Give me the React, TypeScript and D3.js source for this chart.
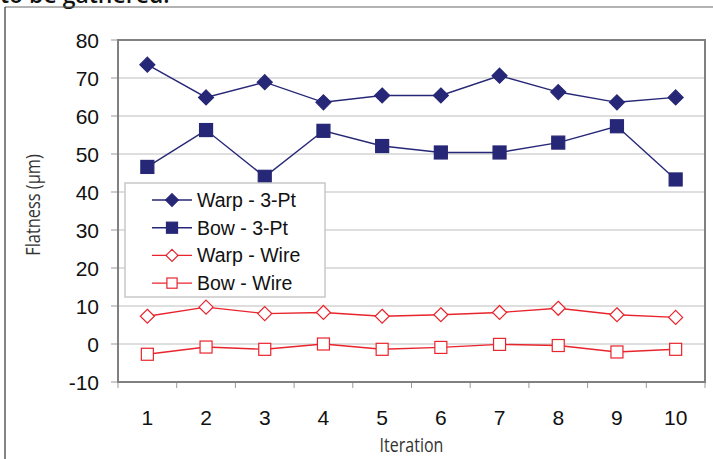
import * as d3 from "d3";

const iterations = [1, 2, 3, 4, 5, 6, 7, 8, 9, 10];
const warp3Pt = [73.5, 64.9, 68.9, 63.6, 65.4, 65.4, 70.6, 66.3, 63.6, 64.9];
const bow3Pt = [46.6, 56.3, 44.0, 56.1, 52.1, 50.4, 50.4, 53.0, 57.3, 43.3];
const warpWire = [7.3, 9.7, 8.0, 8.3, 7.3, 7.7, 8.3, 9.4, 7.7, 7.0];
const bowWire = [-2.7, -0.8, -1.4, 0.0, -1.4, -0.9, -0.1, -0.4, -2.1, -1.4];
const yTicks = [-10, 0, 10, 20, 30, 40, 50, 60, 70, 80];

const NAVY = "#272777";
const RED = "#e8242c";

const series = [
  { name: "Warp - 3-Pt", values: warp3Pt, color: NAVY, shape: "diamond", filled: true },
  { name: "Bow - 3-Pt", values: bow3Pt, color: NAVY, shape: "square", filled: true },
  { name: "Warp - Wire", values: warpWire, color: RED, shape: "diamond", filled: false },
  { name: "Bow - Wire", values: bowWire, color: RED, shape: "square", filled: false },
];

const W = 713;
const H = 459;
const margin = { left: 118, right: 8, top: 40, bottom: 77 };

const Marker = ({ x, y, shape, filled, color, k = 1 }: any) => {
  if (shape === "diamond") {
    const r = (filled ? 7.5 : 7) * k;
    return (
      <path
        d={`M${x},${y - r}L${x + r},${y}L${x},${y + r}L${x - r},${y}Z`}
        fill={filled ? color : "white"}
        stroke={color}
        strokeWidth={1.2}
      />
    );
  }
  const s = (filled ? 13 : 12) * k;
  return (
    <rect
      x={x - s / 2}
      y={y - s / 2}
      width={s}
      height={s}
      fill={filled ? color : "white"}
      stroke={color}
      strokeWidth={1.2}
    />
  );
};

export default function App() {
  const x = d3
    .scaleBand<number>()
    .domain(iterations)
    .range([margin.left, W - margin.right])
    .padding(0);
  const y = d3
    .scaleLinear()
    .domain([-10, 80])
    .range([H - margin.bottom, margin.top]);

  const cx = (d: number) => (x(d) as number) + x.bandwidth() / 2;
  const line = d3
    .line<number>()
    .x((_, i) => cx(iterations[i]))
    .y((v) => y(v));

  const plotL = margin.left;
  const plotR = W - margin.right;
  const plotT = margin.top;
  const plotB = H - margin.bottom;
  const boundaries = iterations.map((d) => x(d) as number).concat([plotR]);

  // legend position
  const lg = { x: 125, y: 183, w: 200, h: 114 };

  return (
    <svg
      width={W}
      height={H}
      style={{ position: "absolute", left: 0, top: 0, background: "white" }}
    >
      {/* page fragment above the figure */}
      <text x={0} y={3} fontFamily="Open Sans, sans-serif" fontWeight={600} fontSize={23} fill="#111">
        to be gathered.
      </text>
      <line x1={5} x2={W} y1={7} y2={7} stroke="#666" strokeWidth={1} />
      <line x1={5} x2={5} y1={7} y2={H} stroke="#333" strokeWidth={1.2} />

      {/* gridlines */}
      {yTicks.map((t) => (
        <line key={t} x1={plotL} x2={plotR} y1={y(t)} y2={y(t)} stroke="#bdbdbd" strokeWidth={1.2} />
      ))}
      {/* y tick marks & labels */}
      {yTicks.map((t) => (
        <g key={"yt" + t}>
          <line x1={plotL - 7} x2={plotL} y1={y(t)} y2={y(t)} stroke="#999" />
          <text
            x={99}
            y={y(t)}
            dy="0.36em"
            textAnchor="end"
            fontFamily="Liberation Sans, Arial, sans-serif"
            fontSize={21}
            fill="#111"
          >
            {t}
          </text>
        </g>
      ))}
      {/* x ticks */}
      {boundaries.map((b, i) => (
        <line key={"xb" + i} x1={b} x2={b} y1={plotB} y2={plotB + 6} stroke="#999" />
      ))}
      {iterations.map((d) => (
        <text
          key={"xl" + d}
          x={cx(d)}
          y={425}
          textAnchor="middle"
          fontFamily="Liberation Sans, Arial, sans-serif"
          fontSize={21}
          fill="#111"
        >
          {d}
        </text>
      ))}

      {/* plot frame */}
      <rect x={plotL} y={plotT} width={plotR - plotL} height={plotB - plotT} fill="none" stroke="#808080" strokeWidth={2} />

      {/* series */}
      {series.map((s) => (
        <g key={s.name}>
          <path d={line(s.values) || ""} fill="none" stroke={s.color} strokeWidth={1.4} />
          {s.values.map((v, i) => (
            <Marker key={i} x={cx(iterations[i])} y={y(v)} shape={s.shape} filled={s.filled} color={s.color} />
          ))}
        </g>
      ))}

      {/* legend */}
      <rect x={lg.x} y={lg.y} width={lg.w} height={lg.h} fill="white" stroke="#c8c8c8" strokeWidth={1.5} />
      {series.map((s, i) => {
        const ly = lg.y + 17 + i * 27.7;
        return (
          <g key={"lg" + s.name}>
            <line x1={152} x2={192} y1={ly} y2={ly} stroke={s.color} strokeWidth={1.4} />
            <Marker x={172} y={ly} shape={s.shape} filled={s.filled} color={s.color} k={0.85} />
            <text
              x={197}
              y={ly}
              dy="0.36em"
              fontFamily="Liberation Sans, Arial, sans-serif"
              fontSize={19.5}
              fill="#111"
            >
              {s.name}
            </text>
          </g>
        );
      })}

      {/* axis titles */}
      <text
        transform={`translate(${(plotL + plotR) / 2},452) scale(0.8,1)`}
        textAnchor="middle"
        fontFamily="Open Sans, sans-serif"
        fontSize={20}
        fill="#333"
      >
        Iteration
      </text>
      <text
        transform={`translate(40,205) rotate(-90) scale(0.82,1)`}
        textAnchor="middle"
        fontFamily="Open Sans, sans-serif"
        fontSize={20}
        fill="#333"
      >
        Flatness (µm)
      </text>
    </svg>
  );
}
